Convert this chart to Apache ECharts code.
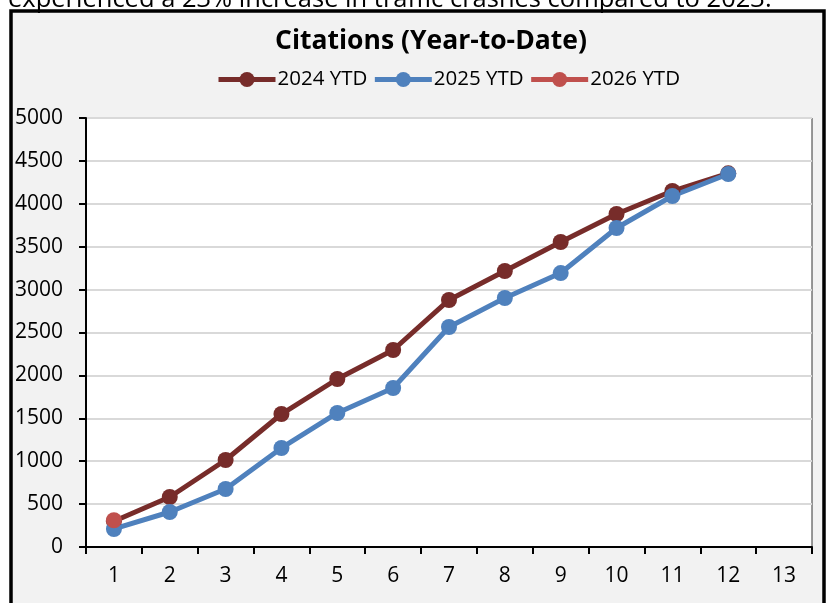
<!DOCTYPE html>
<html>
<head>
<meta charset="utf-8">
<script src="https://cdn.jsdelivr.net/npm/echarts@6/dist/echarts.min.js"></script>
<style>
  html, body { margin: 0; padding: 0; background: #fff; }
  #chart { width: 827px; height: 603px; }
</style>
</head>
<body>
<div id="chart"></div>
<script>
// values
var months = ["1", "2", "3", "4", "5", "6", "7", "8", "9", "10", "11", "12", "13"];
var ytd2024 = [300, 583, 1014, 1550, 1958, 2296, 2879, 3217, 3555, 3881, 4149, 4355];
var ytd2025 = [210, 408, 676, 1154, 1562, 1853, 2564, 2902, 3193, 3718, 4091, 4347];
var ytd2026 = [312];

var font = "Open Sans";

function lineSeries(name, data, color) {
  return {
    name: name,
    type: "line",
    data: data,
    symbol: "circle",
    symbolSize: 16,
    lineStyle: { width: 5, color: color },
    itemStyle: { color: color },
    emphasis: { disabled: true }
  };
}

var myChart = echarts.init(document.getElementById("chart"));
var option = {
  backgroundColor: "#fff",
  animation: false,
  textStyle: { fontFamily: font },
  graphic: [
    {
      type: "rect",
      z: -10,
      shape: { x: 11, y: 11, width: 813, height: 620 },
      style: { fill: "#f2f2f2", stroke: "#000", lineWidth: 3.5 }
    },
    {
      type: "text",
      z: -5,
      style: {
        x: 8,
        y: -13,
        text: "experienced a 23% increase in traffic crashes compared to 2023.",
        font: "25.5px 'Open Sans'",
        fill: "#000",
        verticalAlign: "top"
      }
    }
  ],
  title: {
    text: "Citations (Year-to-Date)",
    left: 270,
    top: 23,
    textStyle: { fontSize: 26.5, fontWeight: "bold", color: "#000", fontFamily: font }
  },
  legend: {
    top: 64,
    left: 211,
    itemWidth: 57,
    itemHeight: 19,
    itemGap: 5,
    lineStyle: { width: 5 },
    textStyle: { fontSize: 20.5, color: "#000", fontFamily: font, padding: [0, 0, 0, -3] },
    data: ["2024 YTD", "2025 YTD", "2026 YTD"]
  },
  grid: {
    left: 86,
    right: 15,
    top: 118,
    bottom: 56,
    show: true,
    backgroundColor: "#fff",
    borderColor: "#333",
    borderWidth: 1
  },
  xAxis: {
    type: "category",
    data: months,
    boundaryGap: true,
    axisLine: { lineStyle: { color: "#000", width: 2 } },
    axisTick: { show: true, length: 7, lineStyle: { color: "#000", width: 2 } },
    axisLabel: { fontSize: 21, color: "#000", margin: 19, fontFamily: font }
  },
  yAxis: {
    type: "value",
    min: 0,
    max: 5000,
    interval: 500,
    axisLine: { show: true, lineStyle: { color: "#000", width: 2 } },
    axisTick: { show: true, length: 7, lineStyle: { color: "#000", width: 2 } },
    axisLabel: {
      fontSize: 21, color: "#000", margin: 23, fontFamily: font,
      formatter: function (v) { return String(v); }
    },
    splitLine: { lineStyle: { color: "#d9d9d9", width: 2 } }
  },
  series: [
    lineSeries("2024 YTD", ytd2024, "#772c2a"),
    lineSeries("2025 YTD", ytd2025, "#4f81bd"),
    lineSeries("2026 YTD", ytd2026, "#c0504d")
  ]
};
option && myChart.setOption(option);
</script>
</body>
</html>
